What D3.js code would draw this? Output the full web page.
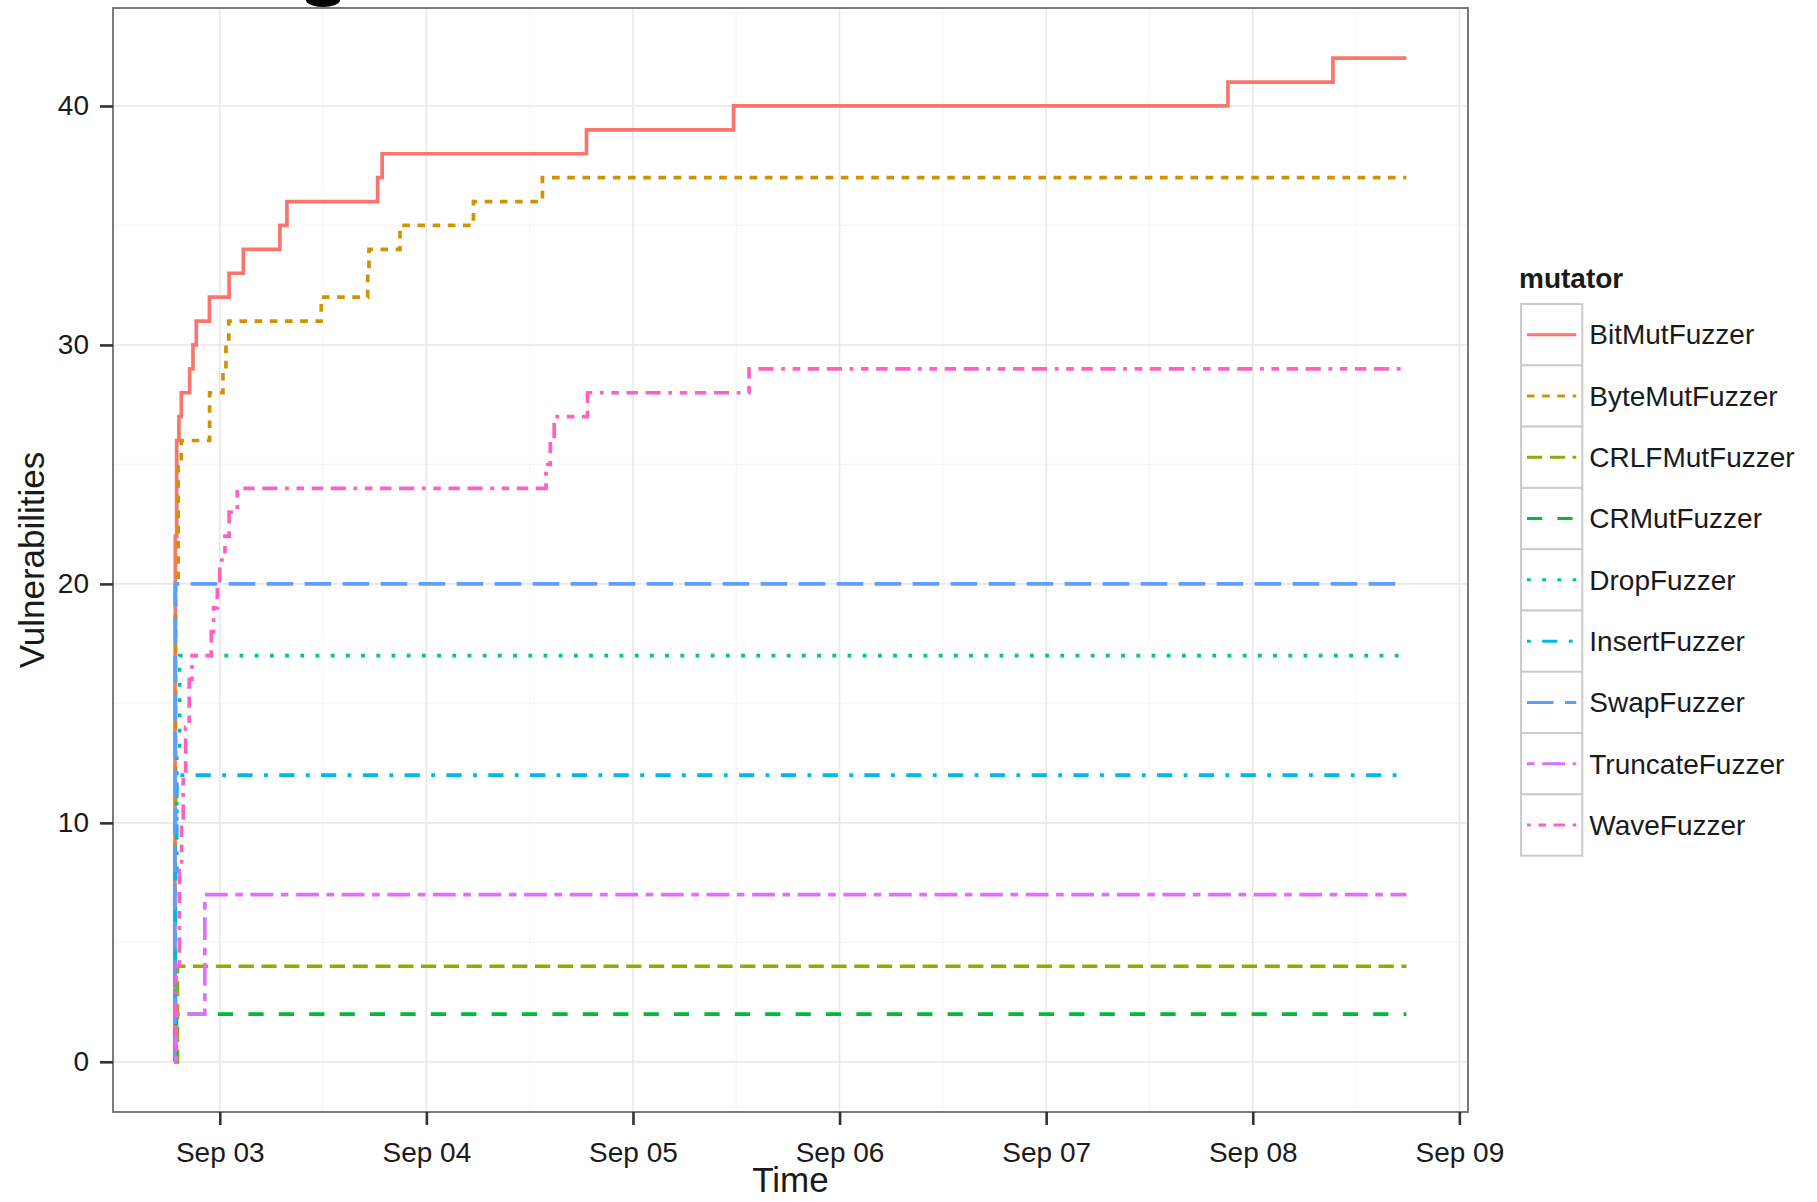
<!DOCTYPE html>
<html>
<head>
    <meta charset="utf-8">
    <script src="https://cdnjs.cloudflare.com/ajax/libs/d3/7.8.5/d3.min.js"></script>
    <title>Vulnerabilities over time</title>
    <style>
    body { margin: 0; background: #fff; }
    text { font-family: "Liberation Sans", Arial, Helvetica, sans-serif; fill: #1a1a1a; }
    .tick-label { font-size: 28px; }
    .axis-title { font-size: 35px; }
    .legend-title { font-size: 28px; font-weight: bold; }
    .legend-label { font-size: 28px; }
    </style>
</head>
<body>
<div id="container"></div>
<script>
// Series names (legend order)
var mutators = ["BitMutFuzzer", "ByteMutFuzzer", "CRLFMutFuzzer", "CRMutFuzzer", "DropFuzzer",
                "InsertFuzzer", "SwapFuzzer", "TruncateFuzzer", "WaveFuzzer"];

// Cumulative vulnerabilities found, [time, count]
var bitMut = [["09-02 18:45", 0], ["09-02 18:46", 8], ["09-02 18:48", 17], ["09-02 18:50", 22],
    ["09-02 19:00", 26], ["09-02 19:15", 27], ["09-02 19:32", 28], ["09-02 20:30", 29],
    ["09-02 20:53", 30], ["09-02 21:16", 31], ["09-02 22:48", 32], ["09-03 01:05", 33],
    ["09-03 02:44", 34], ["09-03 06:59", 35], ["09-03 07:48", 36], ["09-03 18:20", 37],
    ["09-03 18:52", 38], ["09-04 18:36", 39], ["09-05 11:41", 40], ["09-07 21:07", 41],
    ["09-08 09:19", 42], ["09-08 17:51", 42]];
var byteMut = [["09-02 18:45", 0], ["09-02 18:48", 10], ["09-02 18:52", 20], ["09-02 19:10", 25],
    ["09-02 19:32", 26], ["09-02 22:49", 28], ["09-03 00:22", 29], ["09-03 00:43", 30],
    ["09-03 01:03", 31], ["09-03 11:47", 32], ["09-03 17:11", 33], ["09-03 17:20", 34],
    ["09-03 20:56", 35], ["09-04 05:28", 36], ["09-04 13:29", 37], ["09-08 17:51", 37]];
var crlfMut = [["09-02 18:45", 0], ["09-02 19:05", 4], ["09-08 17:51", 4]];
var crMut = [["09-02 18:45", 0], ["09-02 18:58", 2], ["09-08 17:51", 2]];
var drop = [["09-02 18:45", 0], ["09-02 18:50", 10], ["09-02 19:00", 13], ["09-02 19:20", 17],
    ["09-08 17:51", 17]];
var insert = [["09-02 18:45", 0], ["09-02 18:50", 8], ["09-02 19:00", 12], ["09-08 17:51", 12]];
var swap = [["09-02 18:45", 0], ["09-02 18:47", 10], ["09-02 18:50", 20], ["09-08 17:51", 20]];
var truncate = [["09-02 18:45", 0], ["09-02 18:55", 2], ["09-02 22:16", 7], ["09-08 17:51", 7]];
var wave = [["09-02 18:45", 0], ["09-02 18:55", 4], ["09-02 19:19", 8], ["09-02 19:34", 10],
    ["09-02 19:45", 12], ["09-02 20:02", 14], ["09-02 20:27", 16], ["09-02 20:46", 17],
    ["09-02 23:01", 18], ["09-02 23:17", 19], ["09-02 23:43", 20], ["09-03 00:00", 21],
    ["09-03 00:36", 22], ["09-03 01:05", 23], ["09-03 02:02", 24], ["09-04 13:54", 25],
    ["09-04 14:24", 26], ["09-04 14:51", 27], ["09-04 18:43", 28], ["09-05 13:29", 29],
    ["09-08 17:51", 29]];

var yTicks = [0, 10, 20, 30, 40];

// ggplot default hue palette and linetypes for 9 groups
var palette = ["#F8766D", "#D39200", "#93AA00", "#00BA38", "#00C19F", "#00B9E3", "#619CFF", "#DB72FB", "#FF61C3"];
var linetypes = ["", "22", "42", "44", "13", "1343", "73", "2262", "12223242"];

var w = 1817, h = 1202;
var panel = {left: 113, right: 1468, top: 8, bottom: 1112};
var lineWidth = 3.7, dashUnit = 3.8;

var parseTime = d3.timeParse("%Y-%m-%d %H:%M");
var allSeries = [bitMut, byteMut, crlfMut, crMut, drop, insert, swap, truncate, wave];
var series = mutators.map(function(name, i) {
    return {
        name: name,
        values: allSeries[i].map(function(d) { return {t: parseTime("2014-" + d[0]), v: d[1]}; })
    };
});

function dashArray(lt) {
    if (!lt) return null;
    return lt.split("").map(function(c) { return parseInt(c, 16) * dashUnit; }).join(",");
}

var color = d3.scaleOrdinal().domain(mutators).range(palette);
var ltype = d3.scaleOrdinal().domain(mutators).range(linetypes);

// Scales with ggplot style 5% expansion
var tExtent = d3.extent(d3.merge(series.map(function(s) { return s.values; })), function(d) { return d.t; });
var tPad = (tExtent[1] - tExtent[0]) * 0.05;
var yMax = d3.max(series, function(s) { return d3.max(s.values, function(d) { return d.v; }); });
var x = d3.scaleTime()
    .domain([new Date(+tExtent[0] - tPad), new Date(+tExtent[1] + tPad)])
    .range([panel.left, panel.right]);
var y = d3.scaleLinear()
    .domain([-yMax * 0.05, yMax * 1.05])
    .range([panel.bottom, panel.top]);

var svg = d3.select("#container").append("svg")
    .attr("width", w)
    .attr("height", h);

svg.append("rect").attr("width", w).attr("height", h).attr("fill", "#fff");

// cut-off piece of the title at the very top
svg.append("ellipse").attr("cx", 323).attr("cy", 0).attr("rx", 17).attr("ry", 7).attr("fill", "#000");

// Grid
var days = x.ticks(d3.timeDay.every(1));
var halfDays = x.ticks(d3.timeHour.every(12)).filter(function(d) { return d.getHours() == 12; });
var grid = svg.append("g");
grid.selectAll("line.minor-x").data(halfDays).enter().append("line")
    .attr("x1", function(d) { return x(d); }).attr("x2", function(d) { return x(d); })
    .attr("y1", panel.top).attr("y2", panel.bottom)
    .attr("stroke", "#f7f7f7").attr("stroke-width", 1.2);
grid.selectAll("line.minor-y").data([5, 15, 25, 35]).enter().append("line")
    .attr("x1", panel.left).attr("x2", panel.right)
    .attr("y1", function(d) { return y(d); }).attr("y2", function(d) { return y(d); })
    .attr("stroke", "#f7f7f7").attr("stroke-width", 1.2);
grid.selectAll("line.major-x").data(days).enter().append("line")
    .attr("x1", function(d) { return x(d); }).attr("x2", function(d) { return x(d); })
    .attr("y1", panel.top).attr("y2", panel.bottom)
    .attr("stroke", "#e8e8e8").attr("stroke-width", 1.6);
grid.selectAll("line.major-y").data(yTicks).enter().append("line")
    .attr("x1", panel.left).attr("x2", panel.right)
    .attr("y1", function(d) { return y(d); }).attr("y2", function(d) { return y(d); })
    .attr("stroke", "#e8e8e8").attr("stroke-width", 1.6);

// Lines
var line = d3.line()
    .curve(d3.curveStepAfter)
    .x(function(d) { return x(d.t); })
    .y(function(d) { return y(d.v); });

svg.append("g").selectAll("path")
    .data(series)
    .enter()
    .append("path")
    .attr("d", function(d) { return line(d.values); })
    .attr("fill", "none")
    .attr("stroke", function(d) { return color(d.name); })
    .attr("stroke-width", lineWidth)
    .attr("stroke-linecap", "butt")
    .attr("stroke-dasharray", function(d) { return dashArray(ltype(d.name)); });

// Panel border
svg.append("rect")
    .attr("x", panel.left).attr("y", panel.top)
    .attr("width", panel.right - panel.left).attr("height", panel.bottom - panel.top)
    .attr("fill", "none").attr("stroke", "#7a7a7a").attr("stroke-width", 2);

// Axes
var xAxis = d3.axisBottom(x)
    .ticks(d3.timeDay.every(1))
    .tickFormat(d3.timeFormat("%b %d"))
    .tickSizeInner(13).tickSizeOuter(0).tickPadding(10);
var gx = svg.append("g").attr("transform", "translate(0," + panel.bottom + ")").call(xAxis);
gx.select(".domain").remove();
gx.selectAll("line").attr("stroke", "#333").attr("stroke-width", 2.6);
gx.selectAll("text").attr("class", "tick-label").attr("fill", "#1a1a1a").attr("dy", "0.95em");

var yAxis = d3.axisLeft(y)
    .tickValues(yTicks)
    .tickSizeInner(13).tickSizeOuter(0).tickPadding(11);
var gy = svg.append("g").attr("transform", "translate(" + panel.left + ",0)").call(yAxis);
gy.select(".domain").remove();
gy.selectAll("line").attr("stroke", "#333").attr("stroke-width", 2.6);
gy.selectAll("text").attr("class", "tick-label").attr("fill", "#1a1a1a");
svg.selectAll(".tick text").style("font-family", "'Liberation Sans', Arial, sans-serif").style("font-size", "28px");

// Axis titles
svg.append("text").attr("class", "axis-title")
    .attr("x", (panel.left + panel.right) / 2).attr("y", 1192)
    .attr("text-anchor", "middle").text("Time");
svg.append("text").attr("class", "axis-title")
    .attr("transform", "translate(44," + (panel.top + panel.bottom) / 2 + ") rotate(-90)")
    .attr("text-anchor", "middle").text("Vulnerabilities");

// Legend
var key = {left: 1521, top: 304, size: 61.3};
var legend = svg.append("g");
legend.append("text").attr("class", "legend-title")
    .attr("x", 1519).attr("y", 288).text("mutator");
var items = legend.selectAll("g.item").data(mutators).enter().append("g")
    .attr("transform", function(d, i) { return "translate(" + key.left + "," + (key.top + i * key.size) + ")"; });
items.append("rect")
    .attr("width", key.size).attr("height", key.size)
    .attr("fill", "#fff").attr("stroke", "#cccccc").attr("stroke-width", 2);
items.append("line")
    .attr("x1", 6).attr("x2", key.size - 6)
    .attr("y1", key.size / 2).attr("y2", key.size / 2)
    .attr("stroke", function(d) { return color(d); })
    .attr("stroke-width", lineWidth * 0.8)
    .attr("stroke-dasharray", function(d) { return dashArray(ltype(d)); });
items.append("text").attr("class", "legend-label")
    .attr("x", key.size + 7).attr("y", key.size / 2).attr("dy", "0.35em")
    .text(function(d) { return d; });
</script>
</body>
</html>
